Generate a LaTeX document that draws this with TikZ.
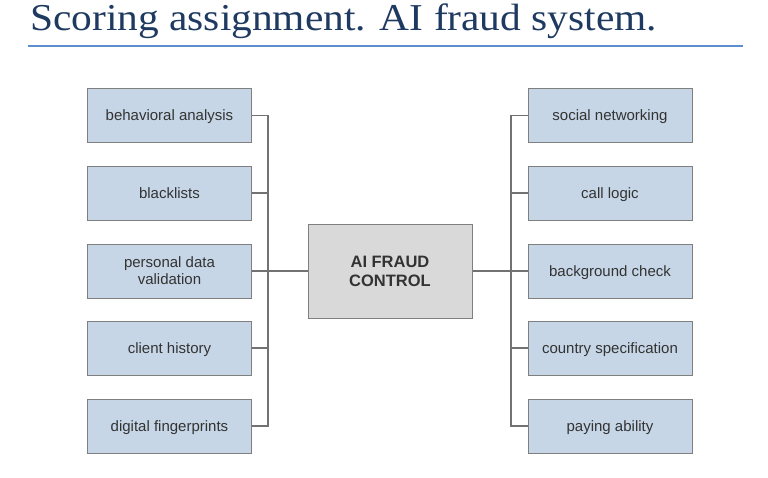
\documentclass[tikz,border=0pt]{standalone}
\usepackage{fontspec}
\setmainfont{Liberation Serif}
\setsansfont{Liberation Sans}
\newfontfamily\titlefont[FakeStretch=1.09]{Liberation Serif}
\usepackage{xcolor}
\usepackage{tikz}
\usetikzlibrary{positioning}
\definecolor{TitleNavy}{HTML}{1F3A60}
\definecolor{RuleBlue}{HTML}{5B8FD0}
\definecolor{FactorBlue}{HTML}{C6D6E6}
\definecolor{CoreGray}{HTML}{D9D9D9}
\definecolor{EdgeGray}{HTML}{7F7F7F}
\definecolor{InkGray}{HTML}{333333}

\begin{document}
\begin{tikzpicture}[x=1pt, y=-1pt,
    factor/.style={draw=EdgeGray, fill=FactorBlue, line width=1pt,
                   minimum width=164pt, minimum height=54pt, inner sep=0pt,
                   align=center, text=InkGray, text depth=0pt,
                   font=\sffamily\fontsize{15}{17}\selectfont},
    core/.style={draw=EdgeGray, fill=CoreGray, line width=1pt,
                 minimum width=164pt, minimum height=94pt, inner sep=0pt,
                 align=center, text=InkGray,
                 font=\sffamily\bfseries\fontsize{16.5}{19}\selectfont},
    link/.style={draw=EdgeGray!90!black, line width=1.2pt},
  ]
    \useasboundingbox (0,0) rectangle (768,477);
    % title and rule
    \node[anchor=base west, inner sep=0pt, text=TitleNavy,
          font=\titlefont\fontsize{38}{44}\selectfont] (title) at (30,30.5) {Scoring assignment. AI fraud system.};
    \draw[RuleBlue, line width=2pt] (28,45.5) -- (743,45.5);
    % centre
    \node[core] (ctrl) at (390,271) {AI FRAUD\\CONTROL};
    \coordinate (lbus) at (268,271);
    \coordinate (rbus) at (511,271);
    % left column
    \node[factor] (behav)  at (169.5,115.5) {behavioral analysis};
    \node[factor] (blackl) at (169.5,193)   {blacklists};
    \node[factor] (persd)  at (169.5,271)   {personal data\\validation};
    \node[factor] (clhist) at (169.5,348)   {client history};
    \node[factor] (digfp)  at (169.5,426)   {digital fingerprints};
    % right column
    \node[factor] (social)  at (610,115.5) {social networking};
    \node[factor] (calls)   at (610,193)   {call logic};
    \node[factor] (backgr)  at (610,271)   {background check};
    \node[factor] (country) at (610,348)   {country specification};
    \node[factor] (paying)  at (610,426)   {paying ability};
    % connectors
    \draw[link] (behav.east)  -| (lbus);
    \draw[link] (blackl.east) -| (lbus);
    \draw[link] (persd.east)  -- (lbus);
    \draw[link] (clhist.east) -| (lbus);
    \draw[link] (digfp.east)  -| (lbus);
    \draw[link] (ctrl.west)   -- (lbus);
    \draw[link] (social.west)  -| (rbus);
    \draw[link] (calls.west)   -| (rbus);
    \draw[link] (backgr.west)  -- (rbus);
    \draw[link] (country.west) -| (rbus);
    \draw[link] (paying.west)  -| (rbus);
    \draw[link] (ctrl.east)    -- (rbus);
  \end{tikzpicture}
\end{document}
